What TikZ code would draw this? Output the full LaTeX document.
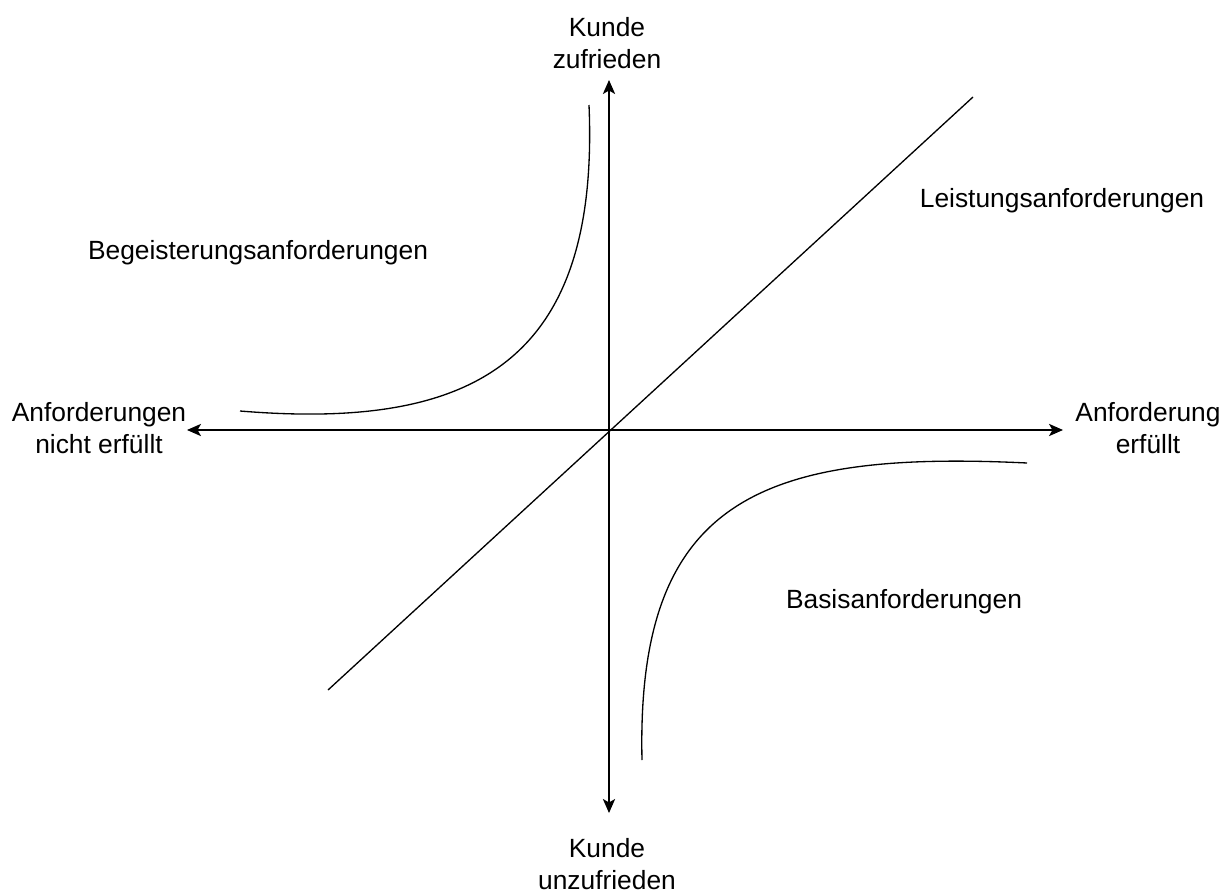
\documentclass[tikz,border=0pt]{standalone}
\usepackage{fontspec}
\setmainfont{Liberation Sans}
\usetikzlibrary{arrows.meta}

\begin{document}
\begin{tikzpicture}[
  x=0.02cm, y=-0.02cm,
  font=\fontsize{15}{17.8}\selectfont,
  lbl/.style={align=center, inner sep=0pt},
  axis/.style={{Stealth[length=8pt,width=7pt,inset=2pt]}-{Stealth[length=8pt,width=7pt,inset=2pt]}, line width=0.75pt},
  kurve/.style={line width=0.75pt}
]
\useasboundingbox (0,0) rectangle (1223,892);
% axis ends
\coordinate (ytop) at (609,80);
\coordinate (ybot) at (609,813);
\coordinate (xleft) at (187,430);
\coordinate (xright) at (1063,430);
\coordinate (dlow) at (328,690);
\coordinate (dhigh) at (973,97);
% labels
\node[lbl] (zufrieden) at (607,43) {Kunde\\zufrieden};
\node[lbl] (unzufrieden) at (607,864) {Kunde\\unzufrieden};
\node[lbl] (nichterf) at (99,428) {Anforderungen\\nicht erfüllt};
\node[lbl] (erf) at (1148,428) {Anforderung\\erfüllt};
\node[lbl] (begeist) at (258,253) {Begeisterungsanforderungen};
\node[lbl] (leistung) at (1062,201) {Leistungsanforderungen};
\node[lbl] (basis) at (904,602) {Basisanforderungen};
% axes and lines
\draw[axis] (ybot) -- (ytop);
\draw[axis] (xleft) -- (xright);
\draw[kurve] (dlow) -- (dhigh);
\draw[kurve] (589,105) .. controls (600,365) and (470,430) .. (240,411);
\draw[kurve] (1027,463) .. controls (760,450) and (636,500) .. (642,760);
\end{tikzpicture}
\end{document}
